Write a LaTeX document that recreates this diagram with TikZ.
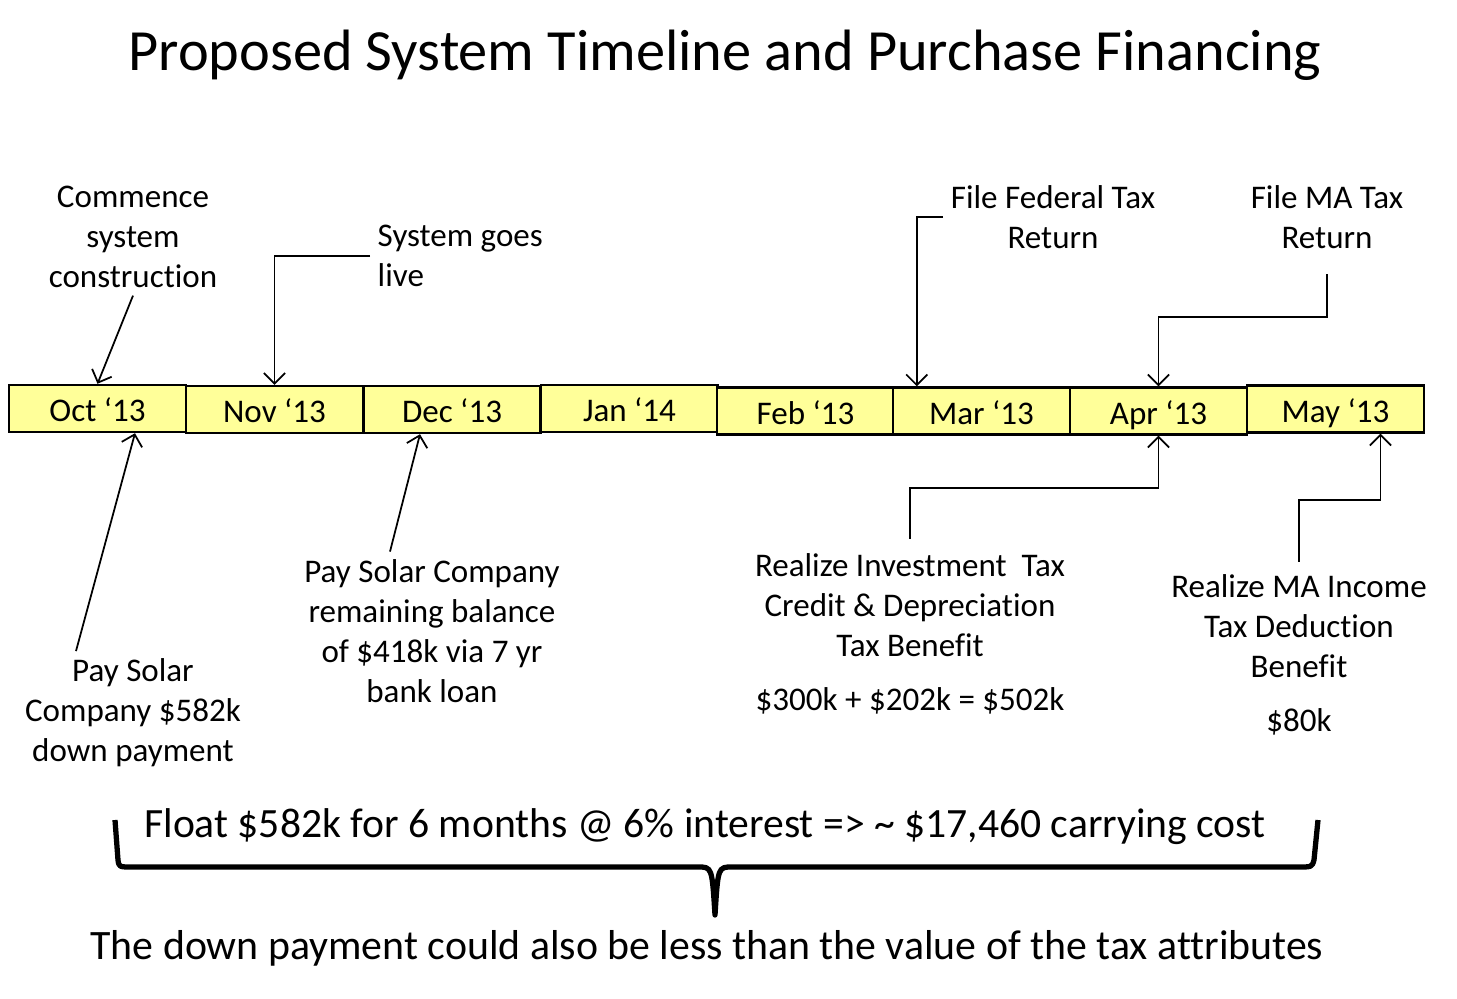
\documentclass[tikz,border=0pt]{standalone}
\usepackage{fontspec}
\setmainfont{Carlito}[Ligatures=NoCommon]
\usetikzlibrary{arrows.meta,positioning,calc}
\definecolor{monthyellow}{RGB}{255,255,153}
\tikzset{
  month/.style={draw, line width=0.7pt, fill=monthyellow, minimum width=1.77cm, minimum height=0.47cm, inner sep=0pt, text height=1.8ex, text depth=0.22ex, font=\fontsize{9.4}{11.4}\selectfont},
  event/.style={align=center, inner sep=2pt, font=\fontsize{9.4}{11.4}\selectfont},
  line/.style={draw, line width=0.5pt, -{Straight Barb[length=3pt,width=6pt]}}
}
\begin{document}
\begin{tikzpicture}
  \useasboundingbox (0,0) rectangle (14.57,9.98);

  \node (title) at (7.25,9.43) {\fontsize{16.6}{20}\selectfont Proposed System Timeline and Purchase Financing};

  % the months, left to right
  \node[month] (oct) at (0.975,5.895) {Oct ‘13};
  \node[month] (nov) at (2.745,5.885) {Nov ‘13};
  \node[month] (dec) at (4.52,5.885) {Dec ‘13};
  \node[month] (jan) at (6.295,5.895) {Jan ‘14};
  \node[month] (feb) at (8.055,5.87) {Feb ‘13};
  \node[month] (mar) at (9.815,5.87) {Mar ‘13};
  \node[month] (apr) at (11.585,5.87) {Apr ‘13};
  \node[month] (may) at (13.355,5.89) {May ‘13};

  % events above the line
  \node[event] (comm) at (1.33,7.61) {Commence\\system\\construction};
  \node[event, align=left, anchor=west] (live) at (3.70,7.42) {System goes\\live};
  \node[event] (fed) at (10.53,7.81) {File Federal Tax\\Return};
  \node[event] (ma) at (13.27,7.81) {File MA Tax\\Return};

  % events below the line
  \node[event] (down) at (1.33,2.85) {Pay Solar\\Company \$582k\\down payment};
  \node[event] (rem) at (4.32,3.67) {Pay Solar Company\\remaining balance\\of \$418k via 7 yr\\bank loan};
  \node[event] (itc) at (9.10,3.64) {Realize Investment\ \ Tax\\Credit \& Depreciation\\Tax Benefit\\[4pt]\$300k + \$202k = \$502k};
  \node[event] (mainc) at (12.99,3.43) {Realize MA Income\\Tax Deduction\\Benefit\\[4pt]\$80k};

  \draw[line] (comm.south) -- (oct.north);
  \draw[line] (live.west) -| (nov.north);
  \draw[line] (fed.west) -| ([xshift=0.25cm]mar.north west);
  \draw[line] ([yshift=-0.18cm]ma.south) -- ++(0,-0.43) -| (apr.north);
  \draw[line] ([xshift=-0.57cm]down.north) -- ([xshift=0.375cm]oct.south);
  \draw[line] ([xshift=-0.42cm]rem.north) -- ([xshift=-0.32cm]dec.south);
  \draw[line] ([yshift=0.07cm]itc.north) -- ++(0,0.51) -| (apr.south);
  \draw[line] ([yshift=0.05cm]mainc.north) -- ++(0,0.62) -| ([xshift=0.45cm]may.south);

  % the brace and what it says
  \node (float) at (7.05,1.71) {\fontsize{11.85}{14}\selectfont Float \$582k for 6 months @ 6\% interest => \textasciitilde{} \$17,460 carrying cost};
  \draw[line width=1.5pt, line join=round] (1.15,1.78) -- (1.18,1.38) .. controls (1.19,1.31) .. (1.32,1.31) -- (6.98,1.31) .. controls (7.12,1.31) .. (7.15,0.83)
     .. controls (7.18,1.31) .. (7.32,1.31) -- (12.98,1.31) .. controls (13.12,1.31) .. (13.14,1.38) -- (13.18,1.78);
  \node (attr) at (7.07,0.50) {\fontsize{11.9}{14}\selectfont The down payment could also be less than the value of the tax attributes};
\end{tikzpicture}
\end{document}
